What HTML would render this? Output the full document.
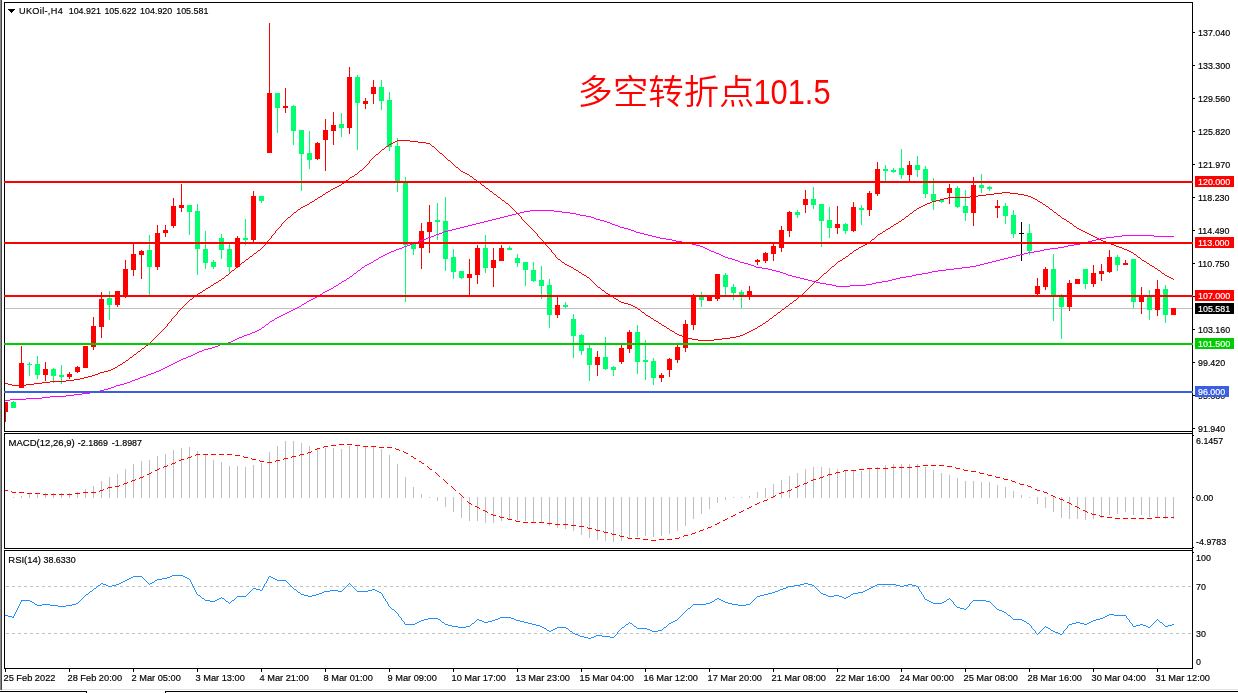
<!DOCTYPE html>
<html lang="zh"><head><meta charset="utf-8"><title>UKOil-,H4</title>
<style>html,body{margin:0;padding:0;background:#fff;overflow:hidden}svg{display:block}text{font-family:"Liberation Sans","Noto Sans CJK SC",sans-serif;font-size:9.9px;fill:#000;white-space:pre;stroke:#000;stroke-width:0.2px}.w{fill:#fff}.big{stroke:none;font-weight:350;font-family:"Noto Sans CJK SC","Liberation Sans",sans-serif;font-size:34.5px;fill:#ff0000}</style></head><body>
<svg width="1238" height="693" viewBox="0 0 1238 693">
<rect width="1238" height="693" fill="#fff"/>
<g shape-rendering="crispEdges">
<rect x="0" y="0" width="1" height="690" fill="#8a8a8a"/><rect x="1" y="0" width="1" height="690" fill="#444"/>
<rect x="2" y="689" width="1236" height="1" fill="#e3e3e3"/>
<rect x="0" y="691" width="87" height="1" fill="#000"/><rect x="86" y="691" width="1" height="2" fill="#000"/>
<rect x="165" y="691" width="1073" height="1" fill="#000"/><rect x="165" y="691" width="1" height="2" fill="#000"/>
<rect x="5" y="308" width="1187" height="1" fill="#c0c0c0"/>
<path d="M6 586.5H1192M6 633.5H1192" stroke="#c0c0c0" stroke-width="1" stroke-dasharray="3 3" fill="none"/>
<path d="M13.5 497V498M21.5 496V498M29.5 494V498M37.5 494V498M45.5 493V498M53.5 493V498M61.5 493V498M69.5 493V498M77.5 492V498M85.5 489V498M93.5 486V498M101.5 481V498M109.5 477V498M117.5 474V498M125.5 469V498M133.5 464V498M141.5 461V498M149.5 460V498M157.5 456V498M165.5 454V498M173.5 450V498M181.5 448V498M189.5 447V498M197.5 451V498M205.5 455V498M213.5 460V498M221.5 462V498M229.5 466V498M237.5 466V498M245.5 467V498M253.5 465V498M261.5 463V498M269.5 452V498M277.5 446V498M285.5 441V498M293.5 441V498M301.5 443V498M309.5 446V498M317.5 448V498M325.5 448V498M333.5 448V498M341.5 449V498M349.5 446V498M357.5 446V498M365.5 447V498M373.5 447V498M381.5 449V498M389.5 455V498M397.5 464V498M405.5 477V498M413.5 487V498M421.5 494V498M429.5 497V498M437.5 497V501M445.5 497V507M453.5 497V512M461.5 497V518M469.5 497V521M477.5 497V521M485.5 497V523M493.5 497V523M501.5 497V521M509.5 497V520M517.5 497V520M525.5 497V521M533.5 497V522M541.5 497V523M549.5 497V526M557.5 497V528M565.5 497V529M573.5 497V531M581.5 497V535M589.5 497V538M597.5 497V540M605.5 497V541M613.5 497V542M621.5 497V541M629.5 497V538M637.5 497V537M645.5 497V536M653.5 497V537M661.5 497V536M669.5 497V534M677.5 497V531M685.5 497V526M693.5 497V519M701.5 497V514M709.5 497V509M717.5 497V503M725.5 497V500M733.5 497V498M741.5 497V498M749.5 496V498M757.5 492V498M765.5 488V498M773.5 484V498M781.5 480V498M789.5 476V498M797.5 473V498M805.5 469V498M813.5 467V498M821.5 467V498M829.5 468V498M837.5 469V498M845.5 470V498M853.5 470V498M861.5 471V498M869.5 469V498M877.5 467V498M885.5 465V498M893.5 464V498M901.5 464V498M909.5 464V498M917.5 464V498M925.5 467V498M933.5 470V498M941.5 473V498M949.5 475V498M957.5 478V498M965.5 481V498M973.5 481V498M981.5 482V498M989.5 482V498M997.5 485V498M1005.5 487V498M1013.5 491V498M1021.5 495V498M1029.5 497V498M1037.5 497V504M1045.5 497V508M1053.5 497V512M1061.5 497V518M1069.5 497V519M1077.5 497V519M1085.5 497V520M1093.5 497V519M1101.5 497V518M1109.5 497V515M1117.5 497V514M1125.5 497V512M1133.5 497V515M1141.5 497V515M1149.5 497V517M1157.5 497V517M1165.5 497V519M1173.5 497V519" stroke="#c0c0c0" stroke-width="1" fill="none"/>
<path d="M5.5 402V422M21.5 346V388M45.5 362V381M69.5 372V379M77.5 366V373M85.5 346V368M93.5 317V350M101.5 292V338M117.5 291V307M125.5 260V298M133.5 244V276M141.5 250V279M157.5 225V270M165.5 225V237M173.5 198V228M181.5 184V212M237.5 236V268M253.5 191V242M269.5 23V153M285.5 88V113M317.5 142V160M325.5 119V171M333.5 112V145M349.5 67V134M365.5 98V109M373.5 80V104M421.5 223V269M429.5 205V253M469.5 259V296M477.5 245V284M493.5 248V287M501.5 245V261M557.5 297V318M597.5 351V376M621.5 345V364M629.5 330V353M661.5 373V382M669.5 358V377M677.5 345V363M685.5 320V352M693.5 294V330M709.5 296V301M717.5 274V301M749.5 286V300M757.5 259V265M765.5 252V263M773.5 244V261M781.5 226V252M789.5 211V237M805.5 190V213M837.5 206V234M853.5 202V232M869.5 191V216M877.5 162V196M909.5 161V182M949.5 184V204M973.5 177V226M997.5 200V218M1037.5 278V296M1045.5 267V290M1069.5 280V311M1077.5 279V284M1093.5 265V287M1101.5 264V281M1109.5 250V273M1125.5 260V265M1141.5 287V314M1157.5 280V316M1173.5 308V315" stroke="#ff0000" stroke-width="1" fill="none"/>
<path d="M5 402h3v10h-3zM19 363h5v25h-5zM43 369h5v6h-5zM67 374h5v3h-5zM75 367h5v5h-5zM83 346h5v22h-5zM91 326h5v21h-5zM99 299h5v28h-5zM115 291h5v14h-5zM123 269h5v28h-5zM131 254h5v16h-5zM139 251h5v4h-5zM155 233h5v34h-5zM163 230h5v3h-5zM171 206h5v20h-5zM179 205h5v3h-5zM235 238h5v29h-5zM251 196h5v44h-5zM267 93h5v60h-5zM283 106h5v2h-5zM315 143h5v16h-5zM323 130h5v10h-5zM331 125h5v6h-5zM347 77h5v51h-5zM363 101h5v3h-5zM371 87h5v7h-5zM419 231h5v17h-5zM427 222h5v10h-5zM467 274h5v4h-5zM475 248h5v27h-5zM491 260h5v8h-5zM499 248h5v13h-5zM555 305h5v10h-5zM595 357h5v8h-5zM619 348h5v14h-5zM627 332h5v17h-5zM659 375h5v3h-5zM667 359h5v11h-5zM675 347h5v13h-5zM683 324h5v24h-5zM691 296h5v29h-5zM707 296h5v5h-5zM715 274h5v25h-5zM747 291h5v6h-5zM755 260h5v2h-5zM763 253h5v8h-5zM771 246h5v8h-5zM779 230h5v18h-5zM787 212h5v19h-5zM803 199h5v6h-5zM835 224h5v4h-5zM851 207h5v24h-5zM867 193h5v17h-5zM875 169h5v25h-5zM907 165h5v10h-5zM947 188h5v5h-5zM971 185h5v28h-5zM995 206h5v2h-5zM1035 286h5v8h-5zM1043 269h5v18h-5zM1067 283h5v24h-5zM1075 279h5v5h-5zM1091 273h5v11h-5zM1099 271h5v3h-5zM1107 257h5v15h-5zM1123 263h5v2h-5zM1139 295h5v7h-5zM1155 289h5v21h-5zM1171 308h5v7h-5z" fill="#ff0000"/>
<path d="M13.5 401V408M29.5 362V376M37.5 356V379M53.5 368V383M61.5 365V384M109.5 291V320M149.5 235V295M189.5 205V235M197.5 204V275M205.5 231V269M213.5 260V269M221.5 234V259M229.5 244V274M245.5 219V245M261.5 196V203M277.5 93V133M293.5 105V145M301.5 130V191M309.5 131V169M341.5 113V137M357.5 75V150M381.5 80V110M389.5 92V151M397.5 138V192M405.5 177V302M413.5 244V255M437.5 203V240M445.5 197V271M453.5 249V279M461.5 271V279M485.5 235V273M509.5 246V250M517.5 254V267M525.5 262V286M533.5 262V282M541.5 266V299M549.5 279V328M565.5 302V308M573.5 314V358M581.5 334V355M589.5 345V381M605.5 337V370M613.5 366V376M637.5 325V374M645.5 340V380M653.5 358V385M701.5 292V307M725.5 273V295M733.5 284V300M741.5 290V308M797.5 210V218M813.5 187V209M821.5 204V247M829.5 207V238M845.5 223V234M861.5 205V225M885.5 165V182M893.5 168V173M901.5 149V179M917.5 156V177M925.5 166V198M933.5 178V210M941.5 200V203M957.5 186V208M965.5 190V221M981.5 174V193M989.5 186V191M1005.5 203V224M1013.5 210V238M1029.5 224V255M1053.5 254V321M1061.5 294V339M1085.5 269V289M1117.5 255V271M1133.5 259V308M1149.5 290V320M1165.5 285V323" stroke="#00ff70" stroke-width="1" fill="none"/>
<path d="M11 402h5v6h-5zM27 364h5v1h-5zM35 364h5v11h-5zM51 369h5v7h-5zM59 375h5v2h-5zM107 298h5v7h-5zM147 250h5v17h-5zM187 205h5v7h-5zM195 211h5v38h-5zM203 249h5v14h-5zM211 262h5v5h-5zM219 238h5v12h-5zM227 249h5v18h-5zM243 238h5v2h-5zM259 196h5v5h-5zM275 93h5v15h-5zM291 106h5v25h-5zM299 130h5v24h-5zM307 153h5v7h-5zM339 124h5v4h-5zM355 77h5v26h-5zM379 87h5v14h-5zM387 100h5v47h-5zM395 146h5v37h-5zM403 182h5v63h-5zM411 244h5v5h-5zM435 220h5v2h-5zM443 221h5v38h-5zM451 257h5v15h-5zM459 271h5v7h-5zM483 248h5v20h-5zM507 248h5v2h-5zM515 258h5v5h-5zM523 262h5v8h-5zM531 270h5v11h-5zM539 280h5v6h-5zM547 285h5v30h-5zM563 305h5v2h-5zM571 319h5v17h-5zM579 335h5v16h-5zM587 348h5v17h-5zM603 357h5v12h-5zM611 367h5v3h-5zM635 332h5v30h-5zM643 360h5v2h-5zM651 361h5v17h-5zM699 296h5v4h-5zM723 275h5v12h-5zM731 287h5v6h-5zM739 292h5v5h-5zM795 212h5v3h-5zM811 199h5v6h-5zM819 204h5v17h-5zM827 220h5v8h-5zM843 224h5v7h-5zM859 208h5v2h-5zM883 169h5v2h-5zM891 170h5v2h-5zM899 168h5v7h-5zM915 165h5v5h-5zM923 169h5v25h-5zM931 194h5v7h-5zM939 200h5v2h-5zM955 188h5v19h-5zM963 206h5v7h-5zM979 185h5v3h-5zM987 187h5v2h-5zM1003 206h5v10h-5zM1011 215h5v19h-5zM1027 233h5v18h-5zM1051 269h5v27h-5zM1059 297h5v10h-5zM1083 269h5v15h-5zM1115 257h5v8h-5zM1131 259h5v43h-5zM1147 297h5v13h-5zM1163 289h5v26h-5z" fill="#00ff70"/>
<path d="M1021.5 222V261M1019 233.5h5" stroke="#000" stroke-width="1" fill="none"/>
</g>
<g shape-rendering="crispEdges">
<path d="M500 217h4v1h-4zM591 217h3v1h-3zM728 258h4v1h-4zM1004 258h4v1h-4zM362 267h2v1h-2zM756 267h6v1h-6zM962 267h8v1h-8zM516 213h4v1h-4zM570 213h6v1h-6zM100 390h4v1h-4zM358 270h2v1h-2zM772 270h4v1h-4zM938 270h8v1h-8zM329 289h2v1h-2zM520 212h4v1h-4zM562 212h8v1h-8zM275 318h2v1h-2zM436 234h3v1h-3zM644 234h4v1h-4zM428 237h3v1h-3zM656 237h4v1h-4zM1106 237h8v1h-8zM224 343h4v1h-4zM383 255h2v1h-2zM721 255h2v1h-2zM1016 255h4v1h-4zM347 278h2v1h-2zM800 278h4v1h-4zM896 278h4v1h-4zM768 269h4v1h-4zM946 269h8v1h-8zM342 281h2v1h-2zM812 281h4v1h-4zM882 281h6v1h-6zM365 265h2v1h-2zM751 265h3v1h-3zM976 265h4v1h-4zM407 245h3v1h-3zM696 245h4v1h-4zM1068 245h6v1h-6zM334 286h2v1h-2zM836 286h14v1h-14zM452 229h4v1h-4zM628 229h3v1h-3zM434 235h2v1h-2zM648 235h4v1h-4zM1122 235h32v1h-32zM418 241h2v1h-2zM676 241h6v1h-6zM1088 241h4v1h-4zM423 239h3v1h-3zM666 239h6v1h-6zM1096 239h4v1h-4zM325 291h2v1h-2zM66 395h8v1h-8zM272 320h2v1h-2zM313 298h2v1h-2zM484 221h4v1h-4zM604 221h3v1h-3zM26 398h16v1h-16zM410 244h2v1h-2zM692 244h4v1h-4zM1074 244h6v1h-6zM197 352h2v1h-2zM796 277h4v1h-4zM900 277h6v1h-6zM396 249h3v1h-3zM707 249h2v1h-2zM1044 249h6v1h-6zM431 236h3v1h-3zM652 236h4v1h-4zM1114 236h8v1h-8zM1154 236h20v1h-20zM108 388h3v1h-3zM163 368h2v1h-2zM496 218h4v1h-4zM594 218h2v1h-2zM354 273h2v1h-2zM783 273h3v1h-3zM922 273h6v1h-6zM508 215h4v1h-4zM580 215h6v1h-6zM379 257h2v1h-2zM725 257h3v1h-3zM1008 257h4v1h-4zM50 396h16v1h-16zM387 253h2v1h-2zM716 253h3v1h-3zM1024 253h4v1h-4zM74 394h8v1h-8zM788 275h4v1h-4zM912 275h4v1h-4zM394 250h2v1h-2zM709 250h2v1h-2zM1040 250h4v1h-4zM399 248h3v1h-3zM705 248h2v1h-2zM1050 248h8v1h-8zM159 370h2v1h-2zM415 242h3v1h-3zM682 242h6v1h-6zM1084 242h4v1h-4zM492 219h4v1h-4zM596 219h4v1h-4zM148 374h3v1h-3zM420 240h3v1h-3zM672 240h4v1h-4zM1092 240h4v1h-4zM816 282h4v1h-4zM876 282h6v1h-6zM472 224h4v1h-4zM612 224h3v1h-3zM336 285h2v1h-2zM832 285h4v1h-4zM850 285h16v1h-16zM291 310h2v1h-2zM120 384h4v1h-4zM512 214h4v1h-4zM576 214h4v1h-4zM376 259h2v1h-2zM732 259h3v1h-3zM1000 259h4v1h-4zM96 391h4v1h-4zM504 216h4v1h-4zM586 216h5v1h-5zM804 279h4v1h-4zM892 279h4v1h-4zM426 238h2v1h-2zM660 238h6v1h-6zM1100 238h6v1h-6zM143 376h3v1h-3zM374 260h2v1h-2zM735 260h3v1h-3zM996 260h4v1h-4zM524 211h6v1h-6zM554 211h8v1h-8zM208 348h4v1h-4zM82 393h8v1h-8zM530 210h24v1h-24zM456 228h4v1h-4zM624 228h4v1h-4zM776 271h4v1h-4zM932 271h6v1h-6zM252 332h3v1h-3zM10 399h16v1h-16zM460 227h4v1h-4zM620 227h4v1h-4zM786 274h2v1h-2zM916 274h6v1h-6zM412 243h3v1h-3zM688 243h4v1h-4zM1080 243h4v1h-4zM309 300h2v1h-2zM371 262h2v1h-2zM740 262h4v1h-4zM988 262h4v1h-4zM404 246h3v1h-3zM700 246h3v1h-3zM1064 246h4v1h-4zM193 354h2v1h-2zM247 334h3v1h-3zM344 280h2v1h-2zM808 280h4v1h-4zM888 280h4v1h-4zM488 220h4v1h-4zM600 220h4v1h-4zM381 256h2v1h-2zM723 256h2v1h-2zM1012 256h4v1h-4zM762 268h6v1h-6zM954 268h8v1h-8zM448 230h4v1h-4zM631 230h3v1h-3zM780 272h3v1h-3zM928 272h4v1h-4zM132 380h3v1h-3zM339 283h2v1h-2zM820 283h6v1h-6zM872 283h4v1h-4zM90 392h6v1h-6zM104 389h4v1h-4zM287 312h2v1h-2zM385 254h2v1h-2zM719 254h2v1h-2zM1020 254h4v1h-4zM350 276h2v1h-2zM792 276h4v1h-4zM906 276h6v1h-6zM754 266h2v1h-2zM970 266h6v1h-6zM42 397h8v1h-8zM439 233h3v1h-3zM640 233h4v1h-4zM183 358h3v1h-3zM391 251h3v1h-3zM711 251h3v1h-3zM1034 251h6v1h-6zM293 309h2v1h-2zM369 263h2v1h-2zM744 263h4v1h-4zM984 263h4v1h-4zM154 372h2v1h-2zM389 252h2v1h-2zM714 252h2v1h-2zM1028 252h6v1h-6zM444 231h4v1h-4zM634 231h2v1h-2zM468 225h4v1h-4zM615 225h3v1h-3zM220 344h4v1h-4zM188 356h3v1h-3zM297 307h2v1h-2zM480 222h4v1h-4zM607 222h3v1h-3zM442 232h2v1h-2zM636 232h4v1h-4zM215 346h3v1h-3zM151 373h3v1h-3zM323 292h2v1h-2zM127 382h3v1h-3zM270 321h2v1h-2zM826 284h6v1h-6zM866 284h6v1h-6zM367 264h2v1h-2zM748 264h3v1h-3zM980 264h4v1h-4zM228 342h3v1h-3zM476 223h4v1h-4zM610 223h2v1h-2zM165 367h2v1h-2zM402 247h2v1h-2zM703 247h2v1h-2zM1058 247h6v1h-6zM262 327h2v1h-2zM135 379h3v1h-3zM283 314h2v1h-2zM204 349h4v1h-4zM116 385h4v1h-4zM289 311h2v1h-2zM140 377h3v1h-3zM111 387h3v1h-3zM239 337h3v1h-3zM302 304h2v1h-2zM315 297h2v1h-2zM5 400h5v1h-5zM124 383h3v1h-3zM146 375h2v1h-2zM464 226h4v1h-4zM618 226h2v1h-2zM320 294h2v1h-2zM311 299h2v1h-2zM195 353h2v1h-2zM250 333h2v1h-2zM161 369h2v1h-2zM259 329h2v1h-2zM130 381h2v1h-2zM156 371h3v1h-3zM199 351h3v1h-3zM285 313h2v1h-2zM212 347h3v1h-3zM181 359h2v1h-2zM235 339h2v1h-2zM281 315h2v1h-2zM177 361h2v1h-2zM114 386h2v1h-2zM218 345h2v1h-2zM307 301h2v1h-2zM191 355h2v1h-2zM299 306h2v1h-2zM244 335h3v1h-3zM202 350h2v1h-2zM231 341h2v1h-2zM331 288h2v1h-2zM277 317h2v1h-2zM173 363h2v1h-2zM304 303h2v1h-2zM295 308h2v1h-2zM257 330h2v1h-2zM738 261h2v1h-2zM992 261h4v1h-4zM327 290h2v1h-2zM318 295h2v1h-2zM138 378h2v1h-2zM169 365h2v1h-2zM237 338h2v1h-2zM179 360h2v1h-2zM242 336h2v1h-2zM266 324h2v1h-2zM233 340h2v1h-2zM279 316h2v1h-2zM175 362h2v1h-2zM255 331h2v1h-2zM171 364h2v1h-2zM186 357h2v1h-2zM167 366h2v1h-2zM378 258h1v1h-1zM360 269h1v1h-1zM349 277h1v1h-1zM352 275h1v1h-1zM341 282h1v1h-1zM346 279h1v1h-1zM357 271h1v1h-1zM353 274h1v1h-1zM322 293h1v1h-1zM361 268h1v1h-1zM356 272h1v1h-1zM274 319h1v1h-1zM364 266h1v1h-1zM306 302h1v1h-1zM338 284h1v1h-1zM261 328h1v1h-1zM265 325h1v1h-1zM269 322h1v1h-1zM373 261h1v1h-1zM333 287h1v1h-1zM264 326h1v1h-1zM317 296h1v1h-1zM301 305h1v1h-1zM268 323h1v1h-1z" fill="#ff00ff"/>
<path d="M397 140h13v1h-13zM66 380h8v1h-8zM393 142h2v1h-2zM418 142h8v1h-8zM886 229h2v1h-2zM1079 229h2v1h-2zM84 377h4v1h-4zM506 203h2v1h-2zM927 203h3v1h-3zM1097 238h2v1h-2zM305 205h2v1h-2zM923 205h2v1h-2zM672 331h2v1h-2zM749 331h2v1h-2zM906 216h2v1h-2zM861 246h2v1h-2zM1116 246h3v1h-3zM395 141h2v1h-2zM410 141h8v1h-8zM1081 230h2v1h-2zM323 194h2v1h-2zM494 194h2v1h-2zM986 194h8v1h-8zM1018 194h6v1h-6zM667 328h2v1h-2zM755 328h2v1h-2zM50 381h16v1h-16zM318 197h2v1h-2zM498 197h2v1h-2zM948 197h22v1h-22zM1031 197h2v1h-2zM894 224h2v1h-2zM42 382h8v1h-8zM246 259h2v1h-2zM558 259h2v1h-2zM859 247h2v1h-2zM1119 247h3v1h-3zM12 385h14v1h-14zM978 195h8v1h-8zM1024 195h4v1h-4zM692 339h6v1h-6zM714 339h8v1h-8zM80 378h4v1h-4zM635 307h2v1h-2zM208 287h2v1h-2zM598 287h2v1h-2zM355 174h2v1h-2zM467 174h2v1h-2zM315 199h2v1h-2zM940 199h4v1h-4zM1035 199h2v1h-2zM800 295h2v1h-2zM258 250h2v1h-2zM854 250h2v1h-2zM1127 250h2v1h-2zM628 304h3v1h-3zM888 228h2v1h-2zM1077 228h2v1h-2zM206 288h2v1h-2zM670 330h2v1h-2zM751 330h2v1h-2zM675 333h2v1h-2zM745 333h2v1h-2zM461 171h2v1h-2zM843 258h2v1h-2zM478 182h2v1h-2zM688 338h4v1h-4zM722 338h8v1h-8zM130 357h2v1h-2zM335 187h2v1h-2zM994 193h8v1h-8zM1010 193h8v1h-8zM619 301h2v1h-2zM250 256h2v1h-2zM846 256h2v1h-2zM642 312h2v1h-2zM778 312h2v1h-2zM320 196h2v1h-2zM970 196h8v1h-8zM1028 196h3v1h-3zM474 179h2v1h-2zM1131 252h2v1h-2zM917 208h2v1h-2zM134 354h2v1h-2zM238 265h2v1h-2zM567 265h2v1h-2zM1150 265h2v1h-2zM118 365h2v1h-2zM8 384h4v1h-4zM26 384h8v1h-8zM298 209h2v1h-2zM1050 209h2v1h-2zM219 280h2v1h-2zM816 280h2v1h-2zM896 223h2v1h-2zM1070 223h2v1h-2zM301 207h2v1h-2zM919 207h2v1h-2zM1129 251h2v1h-2zM222 278h2v1h-2zM1171 278h2v1h-2zM631 305h2v1h-2zM587 277h2v1h-2zM1169 277h2v1h-2zM865 244h2v1h-2zM1111 244h3v1h-3zM214 283h2v1h-2zM326 192h2v1h-2zM1002 192h8v1h-8zM684 337h4v1h-4zM730 337h6v1h-6zM226 275h2v1h-2zM584 275h2v1h-2zM1165 275h2v1h-2zM389 144h2v1h-2zM1147 263h2v1h-2zM698 340h16v1h-16zM624 303h4v1h-4zM790 303h2v1h-2zM98 373h2v1h-2zM386 146h2v1h-2zM432 146h2v1h-2zM346 180h2v1h-2zM294 212h2v1h-2zM1054 212h2v1h-2zM200 292h2v1h-2zM794 300h2v1h-2zM867 243h2v1h-2zM1108 243h3v1h-3zM682 336h2v1h-2zM736 336h4v1h-4zM679 335h3v1h-3zM740 335h3v1h-3zM614 298h2v1h-2zM331 189h2v1h-2zM104 371h4v1h-4zM138 351h2v1h-2zM328 191h2v1h-2zM490 191h2v1h-2zM582 274h2v1h-2zM502 200h2v1h-2zM936 200h4v1h-4zM899 221h2v1h-2zM1067 221h2v1h-2zM880 233h2v1h-2zM1087 233h2v1h-2zM579 272h2v1h-2zM638 309h2v1h-2zM782 309h2v1h-2zM382 149h2v1h-2zM840 260h2v1h-2zM1142 260h2v1h-2zM198 293h2v1h-2zM606 293h2v1h-2zM662 325h2v1h-2zM760 325h2v1h-2zM574 269h2v1h-2zM1103 241h3v1h-3zM190 299h2v1h-2zM616 299h2v1h-2zM288 217h2v1h-2zM391 143h2v1h-2zM426 143h4v1h-4zM659 323h2v1h-2zM763 323h2v1h-2zM211 285h2v1h-2zM203 290h2v1h-2zM602 290h2v1h-2zM74 379h6v1h-6zM376 154h2v1h-2zM902 219h2v1h-2zM1064 219h2v1h-2zM1062 218h2v1h-2zM310 202h2v1h-2zM930 202h2v1h-2zM1040 202h2v1h-2zM654 320h2v1h-2zM5 383h3v1h-3zM34 383h8v1h-8zM1101 240h2v1h-2zM100 372h4v1h-4zM333 188h2v1h-2zM486 188h2v1h-2zM307 204h2v1h-2zM925 204h2v1h-2zM1043 204h2v1h-2zM312 201h2v1h-2zM932 201h4v1h-4zM1038 201h2v1h-2zM872 239h2v1h-2zM1099 239h2v1h-2zM747 332h2v1h-2zM856 249h2v1h-2zM1124 249h3v1h-3zM1091 235h2v1h-2zM350 177h2v1h-2zM337 186h2v1h-2zM878 234h2v1h-2zM1089 234h2v1h-2zM1138 257h2v1h-2zM569 266h2v1h-2zM832 266h2v1h-2zM1152 266h2v1h-2zM838 261h2v1h-2zM1144 261h2v1h-2zM120 364h2v1h-2zM1122 248h2v1h-2zM232 270h2v1h-2zM576 270h2v1h-2zM1158 270h2v1h-2zM1134 254h2v1h-2zM88 376h4v1h-4zM254 253h2v1h-2zM850 253h2v1h-2zM465 173h2v1h-2zM608 294h2v1h-2zM1093 236h2v1h-2zM753 329h2v1h-2zM95 374h3v1h-3zM646 315h2v1h-2zM774 315h2v1h-2zM303 206h2v1h-2zM921 206h2v1h-2zM1046 206h2v1h-2zM1058 215h2v1h-2zM448 160h2v1h-2zM342 183h2v1h-2zM863 245h2v1h-2zM1114 245h2v1h-2zM944 198h4v1h-4zM1033 198h2v1h-2zM891 226h2v1h-2zM1074 226h2v1h-2zM108 370h3v1h-3zM194 296h2v1h-2zM611 296h2v1h-2zM463 172h2v1h-2zM339 185h2v1h-2zM482 185h2v1h-2zM1085 232h2v1h-2zM571 267h2v1h-2zM656 321h2v1h-2zM766 321h2v1h-2zM126 360h2v1h-2zM360 170h2v1h-2zM1167 276h2v1h-2zM910 213h2v1h-2zM242 262h2v1h-2zM562 262h2v1h-2zM633 306h2v1h-2zM786 306h2v1h-2zM824 273h2v1h-2zM1162 273h2v1h-2zM883 231h2v1h-2zM1083 231h2v1h-2zM677 334h2v1h-2zM743 334h2v1h-2zM456 167h2v1h-2zM1155 268h2v1h-2zM664 326h2v1h-2zM758 326h2v1h-2zM565 264h2v1h-2zM92 375h3v1h-3zM352 176h2v1h-2zM470 176h2v1h-2zM651 318h2v1h-2zM770 318h2v1h-2zM123 362h2v1h-2zM914 210h2v1h-2zM115 367h2v1h-2zM621 302h3v1h-3zM142 348h2v1h-2zM1106 242h2v1h-2zM111 369h2v1h-2zM146 345h2v1h-2zM440 153h2v1h-2zM1095 237h2v1h-2zM648 316h2v1h-2zM216 282h2v1h-2zM113 368h2v1h-2zM277 229h1v1h-1zM532 229h1v1h-1zM309 203h1v1h-1zM1042 203h1v1h-1zM270 238h1v1h-1zM540 238h1v1h-1zM874 238h1v1h-1zM509 205h1v1h-1zM1045 205h1v1h-1zM161 331h1v1h-1zM290 216h1v1h-1zM520 216h1v1h-1zM1060 216h1v1h-1zM368 163h1v1h-1zM452 163h1v1h-1zM263 246h1v1h-1zM547 246h1v1h-1zM371 159h1v1h-1zM447 159h1v1h-1zM276 230h1v1h-1zM533 230h1v1h-1zM885 230h1v1h-1zM164 328h1v1h-1zM296 211h1v1h-1zM515 211h1v1h-1zM913 211h1v1h-1zM1053 211h1v1h-1zM283 222h1v1h-1zM525 222h1v1h-1zM898 222h1v1h-1zM1069 222h1v1h-1zM281 224h1v2h-1zM527 224h1v1h-1zM1072 224h1v1h-1zM292 214h1v1h-1zM518 214h1v1h-1zM909 214h1v1h-1zM1057 214h1v1h-1zM842 259h1v1h-1zM1141 259h1v1h-1zM262 247h1v1h-1zM548 247h1v1h-1zM322 195h1v1h-1zM496 195h1v1h-1zM153 339h1v1h-1zM182 307h1v1h-1zM785 307h1v1h-1zM528 225h1v1h-1zM893 225h1v1h-1zM1073 225h1v1h-1zM809 287h1v1h-1zM501 199h1v1h-1zM345 181h1v1h-1zM477 181h1v1h-1zM196 295h1v1h-1zM610 295h1v1h-1zM551 250h1v2h-1zM185 304h1v1h-1zM789 304h1v1h-1zM149 343h1v1h-1zM278 228h1v1h-1zM531 228h1v1h-1zM600 288h1v1h-1zM808 288h1v1h-1zM162 330h1v1h-1zM159 333h1v1h-1zM359 171h1v1h-1zM248 258h1v1h-1zM557 258h1v1h-1zM1140 258h1v1h-1zM344 182h1v1h-1zM154 338h1v1h-1zM485 187h1v1h-1zM325 193h1v1h-1zM493 193h1v1h-1zM188 301h1v1h-1zM793 301h1v1h-1zM555 255h1v2h-1zM1137 256h1v1h-1zM177 312h1v2h-1zM497 196h1v1h-1zM348 179h1v1h-1zM256 252h1v1h-1zM552 252h1v1h-1zM852 252h1v1h-1zM300 208h1v1h-1zM512 208h1v1h-1zM1049 208h1v1h-1zM165 327h1v1h-1zM666 327h1v1h-1zM757 327h1v1h-1zM834 265h1v1h-1zM513 209h1v1h-1zM916 209h1v1h-1zM591 280h1v1h-1zM282 223h1v1h-1zM526 223h1v1h-1zM511 207h1v1h-1zM1048 207h1v1h-1zM257 251h1v1h-1zM853 251h1v1h-1zM589 278h1v1h-1zM819 278h1v1h-1zM179 310h1v1h-1zM640 310h1v1h-1zM781 310h1v1h-1zM184 305h1v1h-1zM788 305h1v1h-1zM224 277h1v1h-1zM820 277h1v1h-1zM265 243h1v2h-1zM545 243h1v2h-1zM594 283h1v1h-1zM813 283h1v1h-1zM492 192h1v1h-1zM155 337h1v1h-1zM822 275h1v1h-1zM430 144h1v1h-1zM241 263h1v1h-1zM564 263h1v1h-1zM836 263h1v1h-1zM152 340h1v1h-1zM181 308h1v1h-1zM637 308h1v1h-1zM784 308h1v1h-1zM366 165h1v1h-1zM454 165h1v1h-1zM349 178h1v1h-1zM473 178h1v1h-1zM186 303h1v1h-1zM476 180h1v1h-1zM516 212h1v1h-1zM912 212h1v1h-1zM365 166h1v1h-1zM455 166h1v1h-1zM605 292h1v1h-1zM804 292h1v1h-1zM189 300h1v1h-1zM618 300h1v1h-1zM156 336h1v1h-1zM374 156h1v1h-1zM444 156h1v1h-1zM363 168h1v1h-1zM458 168h1v1h-1zM157 335h1v1h-1zM192 298h1v1h-1zM797 298h1v1h-1zM488 189h1v1h-1zM193 297h1v1h-1zM613 297h1v1h-1zM798 297h1v1h-1zM228 274h1v1h-1zM823 274h1v1h-1zM1164 274h1v1h-1zM314 200h1v1h-1zM1037 200h1v1h-1zM284 221h1v1h-1zM524 221h1v1h-1zM173 317h1v1h-1zM650 317h1v1h-1zM772 317h1v1h-1zM274 233h1v1h-1zM536 233h1v1h-1zM230 272h1v1h-1zM826 272h1v1h-1zM1161 272h1v1h-1zM231 271h1v1h-1zM578 271h1v1h-1zM827 271h1v1h-1zM1160 271h1v1h-1zM285 220h1v1h-1zM523 220h1v1h-1zM901 220h1v1h-1zM1066 220h1v1h-1zM180 309h1v1h-1zM213 284h1v1h-1zM595 284h1v1h-1zM812 284h1v1h-1zM169 322h1v1h-1zM658 322h1v1h-1zM765 322h1v1h-1zM436 149h1v1h-1zM245 260h1v1h-1zM560 260h1v1h-1zM803 293h1v1h-1zM176 314h1v1h-1zM645 314h1v1h-1zM776 314h1v1h-1zM221 279h1v1h-1zM590 279h1v1h-1zM818 279h1v1h-1zM1173 279h1v1h-1zM167 324h1v2h-1zM234 269h1v1h-1zM829 269h1v1h-1zM1157 269h1v1h-1zM267 241h1v1h-1zM543 241h1v1h-1zM870 241h1v1h-1zM796 299h1v1h-1zM521 217h1v2h-1zM905 217h1v1h-1zM1061 217h1v1h-1zM168 323h1v1h-1zM596 285h1v1h-1zM811 285h1v1h-1zM806 290h1v1h-1zM375 155h1v1h-1zM443 155h1v1h-1zM442 154h1v1h-1zM286 219h1v1h-1zM522 219h1v1h-1zM287 218h1v1h-1zM904 218h1v1h-1zM505 202h1v1h-1zM171 319h1v2h-1zM768 320h1v1h-1zM268 240h1v1h-1zM542 240h1v1h-1zM871 240h1v1h-1zM508 204h1v1h-1zM504 201h1v1h-1zM269 239h1v1h-1zM541 239h1v1h-1zM160 332h1v1h-1zM674 332h1v1h-1zM354 175h1v1h-1zM469 175h1v1h-1zM260 249h1v1h-1zM550 249h1v1h-1zM272 235h1v1h-1zM537 234h1v2h-1zM877 235h1v1h-1zM472 177h1v1h-1zM484 186h1v1h-1zM273 234h1v1h-1zM151 341h1v1h-1zM249 257h1v1h-1zM556 257h1v1h-1zM845 257h1v1h-1zM140 350h1v1h-1zM178 311h1v1h-1zM641 311h1v1h-1zM780 311h1v1h-1zM237 266h1v1h-1zM244 261h1v1h-1zM561 261h1v1h-1zM261 248h1v1h-1zM549 248h1v1h-1zM858 248h1v1h-1zM828 270h1v1h-1zM253 254h1v1h-1zM554 254h1v1h-1zM849 254h1v1h-1zM144 347h1v1h-1zM553 253h1v1h-1zM1133 253h1v1h-1zM357 173h1v1h-1zM125 361h1v1h-1zM197 294h1v1h-1zM802 294h1v1h-1zM271 236h1v2h-1zM538 236h1v1h-1zM876 236h1v1h-1zM163 329h1v1h-1zM669 329h1v1h-1zM175 315h1v1h-1zM510 206h1v1h-1zM291 215h1v1h-1zM519 215h1v1h-1zM908 215h1v1h-1zM370 160h1v1h-1zM218 281h1v1h-1zM592 281h1v1h-1zM815 281h1v1h-1zM380 151h1v1h-1zM438 151h1v1h-1zM480 183h1v1h-1zM264 245h1v1h-1zM546 245h1v1h-1zM317 198h1v1h-1zM500 198h1v1h-1zM379 152h1v1h-1zM439 152h1v1h-1zM280 226h1v1h-1zM529 226h1v1h-1zM653 319h1v1h-1zM769 319h1v1h-1zM799 296h1v1h-1zM117 366h1v1h-1zM148 344h1v1h-1zM358 172h1v1h-1zM275 231h1v2h-1zM535 232h1v1h-1zM882 232h1v1h-1zM129 358h1v1h-1zM388 145h1v1h-1zM431 145h1v1h-1zM205 289h1v1h-1zM601 289h1v1h-1zM807 289h1v1h-1zM236 267h1v1h-1zM831 267h1v1h-1zM1154 267h1v1h-1zM170 321h1v1h-1zM460 170h1v1h-1zM225 276h1v1h-1zM586 276h1v1h-1zM821 276h1v1h-1zM293 213h1v1h-1zM517 213h1v1h-1zM1056 213h1v1h-1zM837 262h1v1h-1zM1146 262h1v1h-1zM183 306h1v1h-1zM229 273h1v1h-1zM581 273h1v1h-1zM534 231h1v1h-1zM381 150h1v1h-1zM437 150h1v1h-1zM330 190h1v1h-1zM489 190h1v1h-1zM158 334h1v1h-1zM364 167h1v1h-1zM235 268h1v1h-1zM573 268h1v1h-1zM830 268h1v1h-1zM369 161h1v2h-1zM451 162h1v1h-1zM252 255h1v1h-1zM848 255h1v1h-1zM1136 255h1v1h-1zM166 326h1v1h-1zM373 157h1v1h-1zM445 157h1v1h-1zM240 264h1v1h-1zM835 264h1v1h-1zM1149 264h1v1h-1zM172 318h1v1h-1zM297 210h1v1h-1zM514 210h1v1h-1zM1052 210h1v1h-1zM187 302h1v1h-1zM792 302h1v1h-1zM202 291h1v1h-1zM604 291h1v1h-1zM805 291h1v1h-1zM210 286h1v1h-1zM597 286h1v1h-1zM810 286h1v1h-1zM266 242h1v1h-1zM544 242h1v1h-1zM869 242h1v1h-1zM341 184h1v1h-1zM481 184h1v1h-1zM279 227h1v1h-1zM530 227h1v1h-1zM890 227h1v1h-1zM1076 227h1v1h-1zM378 153h1v1h-1zM539 237h1v1h-1zM875 237h1v1h-1zM372 158h1v1h-1zM446 158h1v1h-1zM367 164h1v1h-1zM453 164h1v1h-1zM150 342h1v1h-1zM644 313h1v1h-1zM777 313h1v1h-1zM174 316h1v1h-1zM773 316h1v1h-1zM593 282h1v1h-1zM814 282h1v1h-1zM450 161h1v1h-1zM362 169h1v1h-1zM459 169h1v1h-1zM133 355h1v1h-1zM137 352h1v1h-1zM122 363h1v1h-1zM384 148h1v1h-1zM435 148h1v1h-1zM385 147h1v1h-1zM434 147h1v1h-1zM141 349h1v1h-1zM145 346h1v1h-1zM661 324h1v1h-1zM762 324h1v1h-1zM128 359h1v1h-1zM132 356h1v1h-1zM136 353h1v1h-1z" fill="#ff0000"/>
<path d="M684 535h4v1h-4zM1035 489h2v1h-2zM1115 518h5v1h-5zM1123 518h5v1h-5zM1131 518h5v1h-5zM1139 518h5v1h-5zM1147 518h5v1h-5zM547 523h5v1h-5zM717 523h2v1h-2zM1020 484h4v1h-4zM181 459h3v1h-3zM252 459h4v1h-4zM923 465h5v1h-5zM931 465h5v1h-5zM939 465h5v1h-5zM140 477h3v1h-3zM820 477h3v1h-3zM996 477h4v1h-4zM124 483h3v1h-3zM804 483h3v1h-3zM523 522h5v1h-5zM531 522h5v1h-5zM539 522h5v1h-5zM555 524h5v1h-5zM563 524h5v1h-5zM715 524h2v1h-2zM12 492h4v1h-4zM19 492h5v1h-5zM83 492h5v1h-5zM91 492h5v1h-5zM781 492h3v1h-3zM1044 492h3v1h-3zM27 493h5v1h-5zM35 493h5v1h-5zM75 493h5v1h-5zM779 493h2v1h-2zM620 536h4v1h-4zM379 447h5v1h-5zM387 447h5v1h-5zM867 468h5v1h-5zM875 468h5v1h-5zM883 468h5v1h-5zM956 468h4v1h-4zM132 480h3v1h-3zM811 480h2v1h-2zM692 533h3v1h-3zM108 487h4v1h-4zM795 487h2v1h-2zM891 467h5v1h-5zM899 467h5v1h-5zM907 467h5v1h-5zM628 538h4v1h-4zM635 538h5v1h-5zM675 538h4v1h-4zM157 469h2v1h-2zM430 469h2v1h-2zM859 469h5v1h-5zM331 445h5v1h-5zM355 445h5v1h-5zM604 532h4v1h-4zM317 448h3v1h-3zM5 490h3v1h-3zM100 490h3v1h-3zM788 490h3v1h-3zM1037 490h3v1h-3zM149 473h2v1h-2zM980 473h4v1h-4zM339 444h5v1h-5zM347 444h5v1h-5zM292 456h4v1h-4zM411 456h2v1h-2zM308 452h3v1h-3zM404 452h2v1h-2zM755 504h2v1h-2zM315 449h2v1h-2zM396 449h3v1h-3zM196 454h4v1h-4zM203 454h5v1h-5zM211 454h5v1h-5zM219 454h5v1h-5zM227 454h5v1h-5zM300 454h4v1h-4zM164 466h3v1h-3zM915 466h5v1h-5zM947 466h5v1h-5zM324 446h4v1h-4zM363 446h5v1h-5zM371 446h5v1h-5zM579 526h5v1h-5zM508 519h4v1h-4zM725 519h2v1h-2zM43 494h5v1h-5zM51 494h5v1h-5zM59 494h5v1h-5zM67 494h5v1h-5zM708 527h3v1h-3zM813 479h3v1h-3zM1004 479h4v1h-4zM643 539h5v1h-5zM659 539h5v1h-5zM667 539h5v1h-5zM147 474h2v1h-2zM828 474h4v1h-4zM1060 499h3v1h-3zM155 470h2v1h-2zM844 470h4v1h-4zM851 470h5v1h-5zM964 470h4v1h-4zM493 515h3v1h-3zM733 515h2v1h-2zM267 462h5v1h-5zM731 516h2v1h-2zM1100 516h4v1h-4zM235 455h5v1h-5zM836 472h4v1h-4zM179 460h2v1h-2zM276 460h4v1h-4zM571 525h5v1h-5zM500 517h4v1h-4zM1107 517h5v1h-5zM1155 517h5v1h-5zM1163 517h5v1h-5zM1171 517h3v1h-3zM771 497h2v1h-2zM747 508h2v1h-2zM115 486h4v1h-4zM797 486h2v1h-2zM1028 486h3v1h-3zM588 528h4v1h-4zM516 521h4v1h-4zM651 540h5v1h-5zM284 458h4v1h-4zM414 458h2v1h-2zM260 461h4v1h-4zM419 461h2v1h-2zM485 511h2v1h-2zM741 511h2v1h-2zM1085 511h2v1h-2zM188 457h3v1h-3zM244 457h4v1h-4zM1051 495h2v1h-2zM988 475h4v1h-4zM723 520h2v1h-2zM612 534h4v1h-4zM477 507h2v1h-2zM749 507h2v1h-2zM1077 507h2v1h-2zM773 496h2v1h-2zM1053 496h2v1h-2zM596 530h4v1h-4zM700 530h3v1h-3zM739 512h2v1h-2zM469 503h2v1h-2zM757 503h2v1h-2zM1069 503h2v1h-2zM764 500h3v1h-3zM1012 481h3v1h-3zM172 463h3v1h-3zM422 463h2v1h-2zM1067 502h2v1h-2zM491 514h2v1h-2zM1092 514h4v1h-4zM971 471h5v1h-5zM406 453h2v1h-2zM483 510h2v1h-2zM1083 510h2v1h-2zM475 506h2v1h-2zM1075 506h2v1h-2zM619 535h1v1h-1zM103 489h1v1h-1zM454 489h1v1h-1zM791 489h1v1h-1zM507 518h1v1h-1zM727 518h1v1h-1zM127 482h1v1h-1zM446 482h1v1h-1zM807 482h1v1h-1zM1015 482h1v1h-1zM123 484h1v1h-1zM803 484h1v1h-1zM283 459h1v1h-1zM167 465h1v1h-1zM447 483h1v1h-1zM1019 483h1v1h-1zM719 522h1v1h-1zM459 493h1v1h-1zM1047 493h1v1h-1zM683 536h1v1h-1zM323 447h1v1h-1zM159 468h1v1h-1zM429 468h1v1h-1zM444 480h1v1h-1zM1011 480h1v1h-1zM611 533h1v1h-1zM452 487h1v1h-1zM1031 487h1v1h-1zM163 467h1v1h-1zM428 467h1v1h-1zM955 467h1v1h-1zM603 531h1v1h-1zM699 531h1v1h-1zM963 469h1v1h-1zM695 532h1v1h-1zM395 448h1v1h-1zM455 490h1v1h-1zM436 473h1v1h-1zM835 473h1v1h-1zM191 456h1v1h-1zM243 456h1v1h-1zM471 504h1v1h-1zM1071 504h1v1h-1zM11 491h1v1h-1zM99 491h1v1h-1zM787 491h1v1h-1zM1043 491h1v1h-1zM427 466h1v1h-1zM711 526h1v1h-1zM460 494h1v1h-1zM587 527h1v1h-1zM135 479h1v1h-1zM443 479h1v1h-1zM437 474h1v1h-1zM987 474h1v1h-1zM767 499h1v1h-1zM1099 515h1v1h-1zM175 462h1v1h-1zM421 462h1v1h-1zM107 488h1v1h-1zM453 488h1v1h-1zM499 516h1v1h-1zM195 455h1v1h-1zM299 455h1v1h-1zM151 472h1v1h-1zM435 472h1v1h-1zM979 472h1v1h-1zM259 460h1v1h-1zM139 478h1v1h-1zM819 478h1v1h-1zM1003 478h1v1h-1zM463 497h1v1h-1zM1055 497h1v1h-1zM479 508h1v1h-1zM1079 508h1v1h-1zM451 486h1v1h-1zM707 528h1v1h-1zM187 458h1v1h-1zM251 458h1v1h-1zM275 461h1v1h-1zM467 501h1v1h-1zM763 501h1v1h-1zM171 464h1v1h-1zM291 457h1v1h-1zM413 457h1v1h-1zM461 495h1v1h-1zM775 495h1v1h-1zM438 475h1v1h-1zM827 475h1v1h-1zM515 520h1v1h-1zM691 534h1v1h-1zM462 496h1v1h-1zM487 512h1v1h-1zM1087 512h1v1h-1zM1063 500h1v1h-1zM131 481h1v1h-1zM445 481h1v1h-1zM468 502h1v1h-1zM759 502h1v1h-1zM1059 498h1v1h-1zM735 514h1v1h-1zM843 471h1v1h-1zM307 453h1v1h-1zM119 485h1v1h-1zM799 485h1v1h-1zM1027 485h1v1h-1zM143 476h1v1h-1zM439 476h1v1h-1zM823 476h1v1h-1zM995 476h1v1h-1zM627 537h1v1h-1zM679 537h1v1h-1zM743 510h1v1h-1zM751 506h1v1h-1zM595 529h1v1h-1zM703 529h1v1h-1zM399 450h1v1h-1zM311 451h1v1h-1zM403 451h1v1h-1zM1091 513h1v1h-1z" fill="#ff0000"/>
<path d="M458 627h8v1h-8zM542 627h2v1h-2zM557 627h9v1h-9zM622 627h2v1h-2zM664 627h2v1h-2zM1046 627h2v1h-2zM1148 627h2v1h-2zM37 605h5v1h-5zM50 605h8v1h-8zM66 605h6v1h-6zM738 605h8v1h-8zM419 621h2v1h-2zM482 621h2v1h-2zM488 621h4v1h-4zM520 621h4v1h-4zM673 621h2v1h-2zM1024 621h2v1h-2zM1091 621h2v1h-2zM90 591h2v1h-2zM324 591h6v1h-6zM338 591h4v1h-4zM357 591h11v1h-11zM377 591h2v1h-2zM775 591h3v1h-3zM863 591h2v1h-2zM133 576h9v1h-9zM170 576h2v1h-2zM183 576h2v1h-2zM269 576h2v1h-2zM12 617h2v1h-2zM500 617h11v1h-11zM1103 617h2v1h-2zM421 620h3v1h-3zM479 620h3v1h-3zM492 620h3v1h-3zM516 620h4v1h-4zM675 620h2v1h-2zM1022 620h2v1h-2zM1093 620h3v1h-3zM588 638h3v1h-3zM103 584h3v1h-3zM116 584h3v1h-3zM800 584h4v1h-4zM808 584h4v1h-4zM877 584h19v1h-19zM908 584h4v1h-4zM415 623h2v1h-2zM472 623h2v1h-2zM528 623h4v1h-4zM630 623h2v1h-2zM669 623h2v1h-2zM1027 623h2v1h-2zM1072 623h4v1h-4zM1080 623h4v1h-4zM1087 623h2v1h-2zM35 604h2v1h-2zM42 604h8v1h-8zM72 604h4v1h-4zM693 604h13v1h-13zM732 604h6v1h-6zM746 604h4v1h-4zM21 600h9v1h-9zM205 600h5v1h-5zM215 600h2v1h-2zM232 600h2v1h-2zM721 600h2v1h-2zM927 600h2v1h-2zM973 600h13v1h-13zM108 586h4v1h-4zM788 586h6v1h-6zM873 586h2v1h-2zM900 586h4v1h-4zM916 586h2v1h-2zM260 590h2v1h-2zM330 590h8v1h-8zM368 590h4v1h-4zM375 590h2v1h-2zM778 590h2v1h-2zM865 590h2v1h-2zM544 628h2v1h-2zM555 628h2v1h-2zM566 628h2v1h-2zM637 628h10v1h-10zM1048 628h2v1h-2zM298 592h2v1h-2zM322 592h2v1h-2zM379 592h2v1h-2zM772 592h3v1h-3zM858 592h5v1h-5zM1002 611h2v1h-2zM957 607h3v1h-3zM76 603h2v1h-2zM706 603h4v1h-4zM728 603h4v1h-4zM933 603h9v1h-9zM129 578h2v1h-2zM162 578h5v1h-5zM187 578h2v1h-2zM273 578h2v1h-2zM125 580h2v1h-2zM155 580h2v1h-2zM277 580h9v1h-9zM428 618h10v1h-10zM498 618h2v1h-2zM511 618h3v1h-3zM1100 618h3v1h-3zM405 624h10v1h-10zM445 624h3v1h-3zM532 624h4v1h-4zM626 624h2v1h-2zM1069 624h3v1h-3zM1084 624h3v1h-3zM1140 624h3v1h-3zM1172 624h2v1h-2zM688 608h2v1h-2zM960 608h4v1h-4zM198 595h2v1h-2zM304 595h4v1h-4zM312 595h4v1h-4zM760 595h4v1h-4zM826 595h2v1h-2zM834 595h5v1h-5zM217 599h2v1h-2zM715 599h2v1h-2zM719 599h2v1h-2zM925 599h2v1h-2zM947 599h2v1h-2zM553 629h2v1h-2zM647 629h3v1h-3zM417 622h2v1h-2zM442 622h2v1h-2zM484 622h4v1h-4zM524 622h4v1h-4zM671 622h2v1h-2zM1076 622h4v1h-4zM1089 622h2v1h-2zM1160 622h2v1h-2zM86 594h2v1h-2zM301 594h3v1h-3zM316 594h3v1h-3zM764 594h4v1h-4zM823 594h3v1h-3zM851 594h2v1h-2zM237 596h9v1h-9zM308 596h4v1h-4zM757 596h3v1h-3zM828 596h6v1h-6zM839 596h3v1h-3zM848 596h2v1h-2zM448 625h4v1h-4zM536 625h4v1h-4zM1136 625h4v1h-4zM1143 625h3v1h-3zM1168 625h4v1h-4zM131 577h2v1h-2zM167 577h3v1h-3zM185 577h2v1h-2zM271 577h2v1h-2zM575 634h3v1h-3zM1060 634h2v1h-2zM547 630h2v1h-2zM551 630h2v1h-2zM650 630h2v1h-2zM658 630h4v1h-4zM1051 630h2v1h-2zM98 585h2v1h-2zM106 585h2v1h-2zM112 585h4v1h-4zM794 585h6v1h-6zM812 585h2v1h-2zM875 585h2v1h-2zM896 585h4v1h-4zM904 585h4v1h-4zM912 585h4v1h-4zM319 593h3v1h-3zM768 593h4v1h-4zM821 593h2v1h-2zM853 593h5v1h-5zM392 609h2v1h-2zM964 609h2v1h-2zM997 609h2v1h-2zM452 626h6v1h-6zM466 626h4v1h-4zM540 626h2v1h-2zM634 626h2v1h-2zM1133 626h3v1h-3zM1146 626h2v1h-2zM1165 626h3v1h-3zM578 635h2v1h-2zM596 635h6v1h-6zM1109 614h5v1h-5zM127 579h2v1h-2zM157 579h5v1h-5zM275 579h2v1h-2zM121 582h2v1h-2zM152 582h2v1h-2zM32 602h2v1h-2zM710 602h2v1h-2zM725 602h3v1h-3zM931 602h2v1h-2zM942 602h2v1h-2zM580 636h4v1h-4zM594 636h2v1h-2zM602 636h8v1h-8zM30 601h2v1h-2zM210 601h5v1h-5zM226 601h2v1h-2zM712 601h2v1h-2zM723 601h2v1h-2zM929 601h2v1h-2zM944 601h2v1h-2zM986 601h4v1h-4zM123 581h2v1h-2zM1055 632h3v1h-3zM58 606h8v1h-8zM549 631h2v1h-2zM570 631h2v1h-2zM652 631h6v1h-6zM1053 631h2v1h-2zM94 588h2v1h-2zM253 588h3v1h-3zM783 588h3v1h-3zM869 588h2v1h-2zM573 633h2v1h-2zM1058 633h2v1h-2zM8 616h4v1h-4zM1105 616h2v1h-2zM256 589h4v1h-4zM294 589h2v1h-2zM372 589h3v1h-3zM780 589h3v1h-3zM867 589h2v1h-2zM1004 612h2v1h-2zM584 637h4v1h-4zM591 637h3v1h-3zM610 637h4v1h-4zM202 598h2v1h-2zM219 598h2v1h-2zM222 598h2v1h-2zM717 598h2v1h-2zM844 598h2v1h-2zM172 575h11v1h-11zM424 619h4v1h-4zM438 619h2v1h-2zM477 619h2v1h-2zM495 619h3v1h-3zM514 619h2v1h-2zM1013 619h9v1h-9zM1096 619h4v1h-4zM786 587h2v1h-2zM871 587h2v1h-2zM5 615h3v1h-3zM1008 615h2v1h-2zM1107 615h2v1h-2zM1114 615h12v1h-12zM842 597h2v1h-2zM846 597h2v1h-2zM101 583h2v1h-2zM119 583h2v1h-2zM150 583h2v1h-2zM804 583h4v1h-4zM999 610h3v1h-3zM636 627h1v1h-1zM1031 626h1v2h-1zM1044 627h1v1h-1zM1067 626h1v2h-1zM19 604h1v2h-1zM388 604h1v2h-1zM692 605h1v1h-1zM955 605h1v1h-1zM969 604h1v2h-1zM993 605h1v1h-1zM403 621h1v1h-1zM441 621h1v1h-1zM475 621h1v1h-1zM1129 620h1v2h-1zM1155 621h1v1h-1zM1159 621h1v1h-1zM195 590h1v2h-1zM250 591h1v1h-1zM297 591h1v1h-1zM819 591h1v1h-1zM920 591h1v1h-1zM400 617h1v1h-1zM679 617h1v1h-1zM1011 617h1v1h-1zM1126 616h1v2h-1zM402 620h1v1h-1zM440 620h1v1h-1zM476 620h1v1h-1zM1156 620h1v1h-1zM1158 620h1v1h-1zM100 584h1v1h-1zM149 584h1v1h-1zM192 584h1v2h-1zM264 584h1v2h-1zM289 584h1v1h-1zM348 584h1v1h-1zM350 584h1v1h-1zM404 622h1v2h-1zM444 623h1v1h-1zM628 623h1v1h-1zM1131 623h1v1h-1zM1153 623h1v1h-1zM1162 623h1v1h-1zM954 604h1v1h-1zM992 604h1v1h-1zM80 600h1v1h-1zM225 600h1v1h-1zM385 599h1v2h-1zM714 600h1v1h-1zM753 600h1v1h-1zM946 600h1v1h-1zM951 600h1v1h-1zM97 586h1v1h-1zM193 586h1v2h-1zM263 586h1v2h-1zM291 586h1v1h-1zM346 586h1v1h-1zM352 586h1v1h-1zM814 586h1v1h-1zM92 590h1v1h-1zM251 590h1v1h-1zM296 590h1v1h-1zM342 590h1v1h-1zM356 590h1v1h-1zM818 590h1v1h-1zM919 589h1v2h-1zM621 628h1v1h-1zM663 628h1v1h-1zM1032 628h1v1h-1zM1043 628h1v1h-1zM1066 628h1v1h-1zM89 592h1v1h-1zM196 592h1v2h-1zM249 592h1v1h-1zM820 592h1v1h-1zM921 592h1v2h-1zM16 610h1v2h-1zM395 611h1v1h-1zM685 611h1v1h-1zM18 606h1v2h-1zM390 607h1v1h-1zM690 607h1v1h-1zM967 607h1v1h-1zM995 607h1v1h-1zM20 602h1v2h-1zM34 603h1v1h-1zM229 603h1v1h-1zM387 602h1v2h-1zM750 603h1v1h-1zM953 602h1v2h-1zM970 603h1v1h-1zM991 603h1v1h-1zM143 578h1v1h-1zM268 577h1v2h-1zM145 580h1v1h-1zM190 580h1v2h-1zM267 579h1v2h-1zM401 618h1v2h-1zM678 618h1v1h-1zM1012 618h1v1h-1zM1127 618h1v1h-1zM471 624h1v1h-1zM632 624h1v1h-1zM668 624h1v1h-1zM1029 624h1v1h-1zM1132 624h1v2h-1zM1152 624h1v1h-1zM1163 624h1v1h-1zM17 608h1v2h-1zM391 608h1v1h-1zM966 608h1v1h-1zM996 608h1v1h-1zM85 595h1v1h-1zM246 595h1v1h-1zM382 594h1v2h-1zM850 595h1v1h-1zM923 595h1v2h-1zM81 599h1v1h-1zM204 599h1v1h-1zM224 599h1v1h-1zM234 599h1v1h-1zM754 599h1v1h-1zM950 599h1v1h-1zM546 629h1v1h-1zM568 629h1v1h-1zM620 629h1v1h-1zM662 629h1v1h-1zM1033 629h1v1h-1zM1042 629h1v1h-1zM1050 629h1v1h-1zM1065 629h1v1h-1zM474 622h1v1h-1zM629 622h1v1h-1zM1026 622h1v1h-1zM1130 622h1v1h-1zM1154 622h1v1h-1zM197 594h1v1h-1zM247 594h1v1h-1zM922 594h1v1h-1zM84 596h1v1h-1zM200 596h1v1h-1zM383 596h1v2h-1zM470 625h1v1h-1zM625 625h1v1h-1zM633 625h1v1h-1zM667 625h1v1h-1zM1030 625h1v1h-1zM1068 625h1v1h-1zM1151 625h1v1h-1zM1164 625h1v1h-1zM142 577h1v1h-1zM616 634h1v1h-1zM1037 634h1v1h-1zM569 630h1v1h-1zM619 630h1v1h-1zM1034 630h1v1h-1zM1041 630h1v1h-1zM1064 630h1v1h-1zM290 585h1v1h-1zM347 585h1v1h-1zM351 585h1v1h-1zM88 593h1v1h-1zM248 593h1v1h-1zM300 593h1v1h-1zM381 593h1v1h-1zM687 609h1v1h-1zM624 626h1v1h-1zM666 626h1v1h-1zM1045 626h1v1h-1zM1150 626h1v1h-1zM615 635h1v1h-1zM14 614h1v2h-1zM398 614h1v2h-1zM682 614h1v1h-1zM1007 614h1v1h-1zM144 579h1v1h-1zM189 579h1v1h-1zM147 582h1v1h-1zM191 582h1v2h-1zM266 581h1v2h-1zM287 582h1v1h-1zM78 602h1v1h-1zM228 602h1v1h-1zM230 602h1v1h-1zM751 602h1v1h-1zM971 602h1v1h-1zM990 602h1v1h-1zM614 636h1v1h-1zM21 601h1v1h-1zM79 601h1v1h-1zM231 601h1v1h-1zM386 601h1v1h-1zM752 601h1v1h-1zM952 601h1v1h-1zM972 601h1v1h-1zM146 581h1v1h-1zM154 581h1v1h-1zM286 581h1v1h-1zM572 632h1v1h-1zM617 632h1v2h-1zM1035 631h1v2h-1zM1039 632h1v1h-1zM1063 631h1v2h-1zM389 606h1v1h-1zM691 606h1v1h-1zM956 606h1v1h-1zM968 606h1v1h-1zM994 606h1v1h-1zM618 631h1v1h-1zM1040 631h1v1h-1zM194 588h1v2h-1zM262 588h1v2h-1zM293 588h1v1h-1zM344 588h1v1h-1zM354 588h1v1h-1zM816 588h1v1h-1zM918 587h1v2h-1zM1036 633h1v1h-1zM1038 633h1v1h-1zM1062 633h1v1h-1zM13 616h1v1h-1zM399 616h1v1h-1zM680 616h1v1h-1zM1010 616h1v1h-1zM93 589h1v1h-1zM252 589h1v1h-1zM343 589h1v1h-1zM355 589h1v1h-1zM817 589h1v1h-1zM15 612h1v2h-1zM396 612h1v1h-1zM684 612h1v1h-1zM82 598h1v1h-1zM235 598h1v1h-1zM384 598h1v1h-1zM755 598h1v1h-1zM924 597h1v2h-1zM949 598h1v1h-1zM677 619h1v1h-1zM1128 619h1v1h-1zM1157 619h1v1h-1zM96 587h1v1h-1zM292 587h1v1h-1zM345 587h1v1h-1zM353 587h1v1h-1zM815 587h1v1h-1zM681 615h1v1h-1zM83 597h1v1h-1zM201 597h1v1h-1zM221 597h1v1h-1zM236 597h1v1h-1zM756 597h1v1h-1zM148 583h1v1h-1zM265 583h1v1h-1zM288 583h1v1h-1zM349 583h1v1h-1zM397 613h1v1h-1zM683 613h1v1h-1zM1006 613h1v1h-1zM394 610h1v1h-1zM686 610h1v1h-1z" fill="#1e90ff"/>
</g>
<g shape-rendering="crispEdges">
<path d="M4.5 2V432M4.5 433V549M4.5 550V669M4 2.5H1193M4 431.5H1193M4 433.5H1193M4 548.5H1193M4 550.5H1193M4 668.5H1193M1192.5 2V669" stroke="#000" stroke-width="1" fill="none"/>
<rect x="4" y="181" width="1189" height="2" fill="#ff0000"/>
<rect x="4" y="242" width="1189" height="2" fill="#ff0000"/>
<rect x="4" y="295" width="1189" height="2" fill="#ff0000"/>
<rect x="4" y="343" width="1189" height="2" fill="#00cc00"/>
<rect x="4" y="391" width="1189" height="2" fill="#3a5fe0"/>
<path d="M1193 32.5h2M1193 65.5h2M1193 98.5h2M1193 131.5h2M1193 164.5h2M1193 197.5h2M1193 230.5h2M1193 263.5h2M1193 296.5h2M1193 329.5h2M1193 362.5h2M1193 395.5h2M1193 428.5h2M1193 435.5h1M1193 547.5h1M1193 552.5h1M1193 497.5h1M5.5 669v3M69.5 669v3M133.5 669v3M197.5 669v3M261.5 669v3M325.5 669v3M389.5 669v3M453.5 669v3M517.5 669v3M581.5 669v3M645.5 669v3M709.5 669v3M773.5 669v3M837.5 669v3M901.5 669v3M965.5 669v3M1029.5 669v3M1093.5 669v3M1157.5 669v3" stroke="#000" stroke-width="1" fill="none"/>
<path d="M8 9h7v1h-1v1h-1v1h-1v1h-1v-1h-1v-1h-1v-1h-1z" fill="#000"/>
</g>
<g opacity="0.999">
<text transform="translate(1198 36) scale(0.9 1)">137.040</text>
<text transform="translate(1198 69) scale(0.9 1)">133.300</text>
<text transform="translate(1198 102) scale(0.9 1)">129.560</text>
<text transform="translate(1198 135) scale(0.9 1)">125.820</text>
<text transform="translate(1198 168) scale(0.9 1)">121.970</text>
<text transform="translate(1198 201) scale(0.9 1)">118.230</text>
<text transform="translate(1198 234) scale(0.9 1)">114.490</text>
<text transform="translate(1198 267) scale(0.9 1)">110.750</text>
<text transform="translate(1198 300) scale(0.9 1)">107.010</text>
<text transform="translate(1198 333) scale(0.9 1)">103.160</text>
<text transform="translate(1198 366) scale(0.9 1)">99.420</text>
<text transform="translate(1198 399) scale(0.9 1)">95.680</text>
<text transform="translate(1198 432) scale(0.9 1)">91.940</text>
<rect x="1195" y="176" width="39" height="11" fill="#ff0000" shape-rendering="crispEdges"/>
<text transform="translate(1198 185) scale(0.9 1)" style="fill:#fff;stroke:#fff">120.000</text>
<rect x="1195" y="237" width="39" height="11" fill="#ff0000" shape-rendering="crispEdges"/>
<text transform="translate(1198 246) scale(0.9 1)" style="fill:#fff;stroke:#fff">113.000</text>
<rect x="1195" y="290" width="39" height="11" fill="#ff0000" shape-rendering="crispEdges"/>
<text transform="translate(1198 299) scale(0.9 1)" style="fill:#fff;stroke:#fff">107.000</text>
<rect x="1195" y="303" width="39" height="11" fill="#000" shape-rendering="crispEdges"/>
<text transform="translate(1198 312) scale(0.9 1)" style="fill:#fff;stroke:#fff">105.581</text>
<rect x="1195" y="338" width="39" height="11" fill="#00cc00" shape-rendering="crispEdges"/>
<text transform="translate(1198 347) scale(0.9 1)" style="fill:#fff;stroke:#fff">101.500</text>
<rect x="1195" y="386" width="34" height="11" fill="#3a5fe0" shape-rendering="crispEdges"/>
<text transform="translate(1198 395) scale(0.9 1)" style="fill:#fff;stroke:#fff">96.000</text>
<text transform="translate(19 14) scale(0.925 1)" style="letter-spacing:0.35px">UKOil-,H4</text>
<text transform="translate(68.7 14) scale(0.9 1)">104.921</text>
<text transform="translate(104.4 14) scale(0.9 1)">105.622</text>
<text transform="translate(140.1 14) scale(0.9 1)">104.920</text>
<text transform="translate(176.2 14) scale(0.9 1)">105.581</text>
<text transform="translate(8.5 445.6) scale(0.965 1)">MACD(12,26,9)</text>
<text transform="translate(77.8 445.6) scale(0.9 1)">-2.1869</text>
<text transform="translate(111.8 445.6) scale(0.9 1)">-1.8987</text>
<text transform="translate(8.3 562.6) scale(0.96 1)">RSI(14)</text>
<text transform="translate(43.5 562.6) scale(0.9 1)">38.6330</text>
<text transform="translate(1196 444) scale(0.9 1)">6.1457</text>
<text transform="translate(1196 501) scale(0.9 1)">0.00</text>
<text transform="translate(1196 545) scale(0.9 1)">-4.9783</text>
<text transform="translate(1196 561) scale(0.9 1)">100</text>
<text transform="translate(1196 590) scale(0.9 1)">70</text>
<text transform="translate(1196 637) scale(0.9 1)">30</text>
<text transform="translate(1196 665) scale(0.9 1)">0</text>
<text transform="translate(3.5 681) scale(0.935 1)">25 Feb 2022</text>
<text transform="translate(67.5 681) scale(0.935 1)">28 Feb 20:00</text>
<text transform="translate(131.5 681) scale(0.935 1)">2 Mar 05:00</text>
<text transform="translate(195.5 681) scale(0.935 1)">3 Mar 13:00</text>
<text transform="translate(259.5 681) scale(0.935 1)">4 Mar 21:00</text>
<text transform="translate(323.5 681) scale(0.935 1)">8 Mar 01:00</text>
<text transform="translate(387.5 681) scale(0.935 1)">9 Mar 09:00</text>
<text transform="translate(451.5 681) scale(0.935 1)">10 Mar 17:00</text>
<text transform="translate(515.5 681) scale(0.935 1)">13 Mar 23:00</text>
<text transform="translate(579.5 681) scale(0.935 1)">15 Mar 04:00</text>
<text transform="translate(643.5 681) scale(0.935 1)">16 Mar 12:00</text>
<text transform="translate(707.5 681) scale(0.935 1)">17 Mar 20:00</text>
<text transform="translate(771.5 681) scale(0.935 1)">21 Mar 08:00</text>
<text transform="translate(835.5 681) scale(0.935 1)">22 Mar 16:00</text>
<text transform="translate(899.5 681) scale(0.935 1)">24 Mar 00:00</text>
<text transform="translate(963.5 681) scale(0.935 1)">25 Mar 08:00</text>
<text transform="translate(1027.5 681) scale(0.935 1)">28 Mar 16:00</text>
<text transform="translate(1091.5 681) scale(0.935 1)">30 Mar 04:00</text>
<text transform="translate(1155.5 681) scale(0.935 1)">31 Mar 12:00</text>
<text class="big" transform="translate(577.5 104) scale(1.026 1)">多空转折点</text>
<text class="big" x="753.5" y="103.6" style="font-family:'Liberation Sans',sans-serif;font-size:34.6px;font-weight:400" textLength="77" lengthAdjust="spacingAndGlyphs">101.5</text>
</g>
</svg></body></html>
